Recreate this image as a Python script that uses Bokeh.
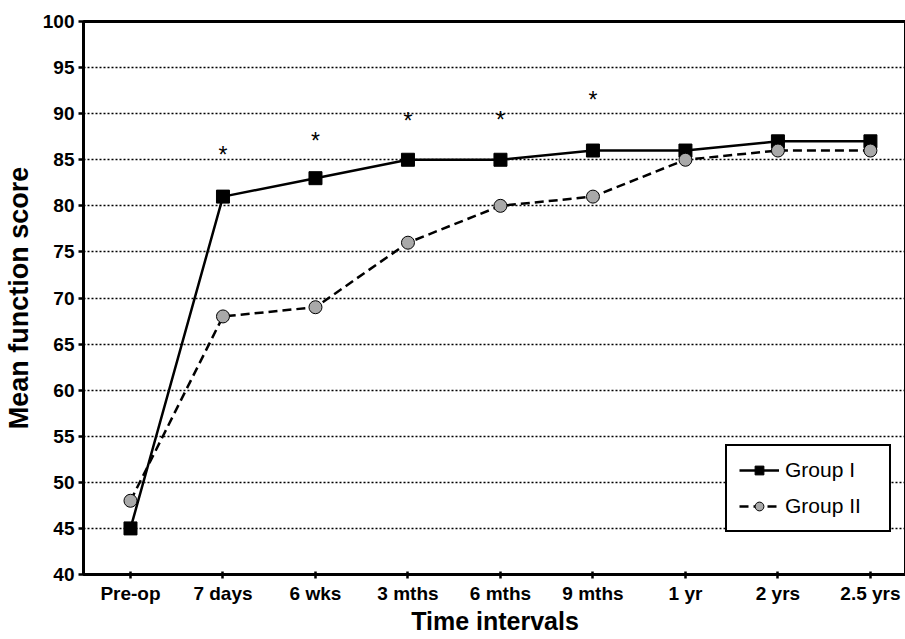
from bokeh.plotting import figure
from bokeh.models import Range1d, FixedTicker, Legend, LegendItem, ColumnDataSource
from bokeh.core.properties import value
from bokeh.embed import file_html
from bokeh.resources import INLINE

categories = ["Pre-op", "7 days", "6 wks", "3 mths", "6 mths", "9 mths", "1 yr", "2 yrs", "2.5 yrs"]
group1 = [45, 81, 83, 85, 85, 86, 86, 87, 87]
group2 = [48, 68, 69, 76, 80, 81, 85, 86, 86]
star_idx = [1, 2, 3, 4, 5]
star_y = [85.9, 87.5, 89.6, 89.8, 91.9]
y_ticks = list(range(40, 101, 5))

xs = list(range(len(categories)))
FONT = "Liberation Sans"

p = figure(frame_width=823, frame_height=553, min_border_left=82, min_border_top=21,
           min_border_right=0, min_border_bottom=2,
           output_backend="svg", toolbar_location=None,
           x_range=Range1d(-0.508, 8.39), y_range=Range1d(40, 100))

p.background_fill_color = "white"
p.border_fill_color = "white"
p.outline_line_color = "black"
p.outline_line_width = 3

p.xgrid.visible = False
p.ygrid.ticker = FixedTicker(ticks=y_ticks)
p.ygrid.grid_line_color = "black"
p.ygrid.grid_line_width = 1.5
p.ygrid.grid_line_dash = "2 2"

p.xaxis.ticker = FixedTicker(ticks=xs)
p.xaxis.major_label_overrides = {i: c for i, c in enumerate(categories)}
p.yaxis.ticker = FixedTicker(ticks=y_ticks)

for ax in (p.xaxis[0], p.yaxis[0]):
    ax.axis_line_width = 3
    ax.axis_line_color = "black"
    ax.major_tick_line_width = 2.5
    ax.major_tick_line_color = "black"
    ax.minor_tick_line_color = None
    ax.major_label_text_font = FONT
    ax.major_label_text_font_style = "bold"
    ax.major_label_text_font_size = "19px"
    ax.major_label_text_color = "black"
    ax.axis_label_text_font = FONT
    ax.axis_label_text_font_style = "bold"
    ax.axis_label_text_color = "black"

p.xaxis.major_tick_in = 3
p.xaxis.major_tick_out = 4
p.xaxis.major_label_standoff = 4
p.xaxis.axis_label = "Time intervals"
p.xaxis.axis_label_text_font_size = "25px"
p.xaxis.axis_label_standoff = 0

p.yaxis.major_tick_in = 0
p.yaxis.major_tick_out = 5
p.yaxis.major_label_standoff = 4
p.yaxis.axis_label = "Mean function score"
p.yaxis.axis_label_text_font_size = "27px"
p.yaxis.axis_label_standoff = 6

src = ColumnDataSource(dict(x=xs, g1=group1, g2=group2))

l1 = p.line("x", "g1", source=src, line_color="black", line_width=2.5)
m1 = p.scatter("x", "g1", source=src, marker="square", size=13, fill_color="black", line_color="black")
l2 = p.line("x", "g2", source=src, line_color="black", line_width=2.5, line_dash="9 5")
m2 = p.scatter("x", "g2", source=src, marker="circle", size=13, fill_color="#a9a9a9", line_color="black", line_width=1)

p.text(x=star_idx, y=star_y, text=["*"] * len(star_idx), text_align="center", text_baseline="middle",
       y_offset=4, text_font=value(FONT), text_font_size="23px", text_color="black")

legend = Legend(items=[LegendItem(label="Group I", renderers=[l1, m1]),
                       LegendItem(label="Group II", renderers=[l2, m2])],
                location=(642, 42))
legend.border_line_color = "black"
legend.border_line_width = 2.5
legend.border_line_alpha = 1
legend.background_fill_color = "white"
legend.background_fill_alpha = 1
legend.label_text_font = FONT
legend.label_text_font_size = "21px"
legend.label_text_color = "black"
legend.glyph_width = 40
legend.glyph_height = 22
legend.label_height = 22
legend.label_width = 92
legend.padding = 12
legend.spacing = 12
legend.margin = 0
legend.label_standoff = 6
p.add_layout(legend, "center")

open("out.html", "w").write(file_html(p, INLINE))
